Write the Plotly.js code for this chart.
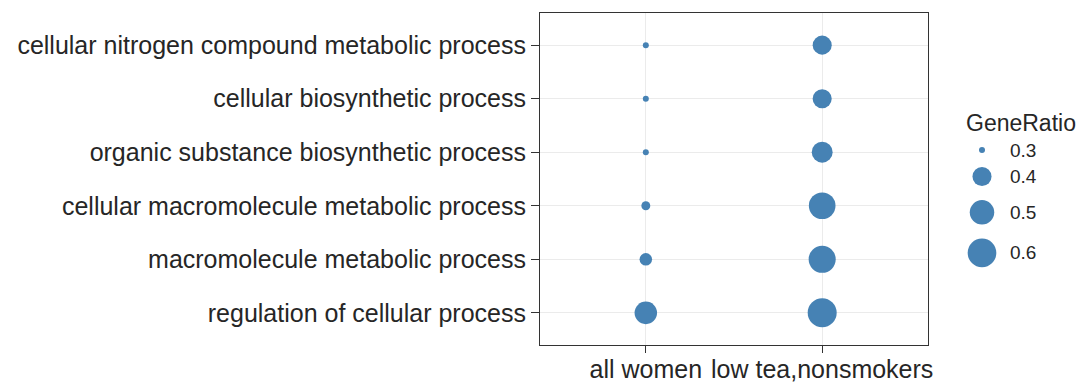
<!DOCTYPE html>
<html>
<head>
<meta charset="utf-8">
<script src="https://cdn.plot.ly/plotly-3.0.1.min.js"></script>
<style>
html, body { margin: 0; padding: 0; background: #ffffff; }
#chart { width: 1078px; height: 383px; }
</style>
</head>
<body>
<div id="chart"></div>
<script>
// ---- data (terms listed top to bottom as in the chart) ----
const terms = [
  "cellular nitrogen compound metabolic process",
  "cellular biosynthetic process",
  "organic substance biosynthetic process",
  "cellular macromolecule metabolic process",
  "macromolecule metabolic process",
  "regulation of cellular process"
];
const groups = ["all women", "low tea,nonsmokers"];
const ratioAllWomen = [0.300, 0.300, 0.300, 0.305, 0.325, 0.46];
const ratioLowTea   = [0.40, 0.40, 0.43, 0.55, 0.56, 0.61];
const legendTitle = "GeneRatio";
const legendBreaks = [0.3, 0.4, 0.5, 0.6];
const legendLabels = ["0.3", "0.4", "0.5", "0.6"];

// ---- size scale (area-style, like ggplot's scale_size) ----
const allRatios = ratioAllWomen.concat(ratioLowTea);
const lo = Math.min(...allRatios), hi = Math.max(...allRatios);
const D_MIN = 6, D_MAX = 29;
function diam(v) {
  const t = Math.max(0, Math.min(1, (v - lo) / (hi - lo)));
  return D_MIN + (D_MAX - D_MIN) * Math.sqrt(t);
}

const FONT = "Liberation Sans, Arial, Helvetica, sans-serif";
const TXT = "#262626";
const DOT = "#4682B4";

// ---- layout geometry ----
const W = 1078, H = 383;
const M = { l: 540, r: 0, t: 13, b: 38 };
const plotW = W - M.l - M.r;
const panelRight = 928;
const split = (panelRight - M.l) / plotW;

// legend key positions (pixel units on the hidden legend axis)
const LEG_X = 982, LEG_LABEL_X = 1008, LEG_TITLE_X = 964, LEG_TITLE_Y = 123;
const LEG_FIRST_Y = 150, KEY_PAD = 14;
const legY = [];
legendBreaks.forEach((b, i) => {
  if (i === 0) legY.push(LEG_FIRST_Y);
  else {
    const prev = legendBreaks[i - 1];
    legY.push(legY[i - 1] + (diam(prev) + KEY_PAD + diam(b) + KEY_PAD) / 2);
  }
});

const mainTrace = {
  type: "scatter",
  mode: "markers",
  x: terms.map(() => groups[0]).concat(terms.map(() => groups[1])),
  y: terms.concat(terms),
  marker: {
    color: DOT,
    size: allRatios.map(diam),
    sizemode: "diameter",
    line: { width: 0 },
    opacity: 1
  },
  hoverinfo: "x+y+text",
  text: allRatios.map(v => "GeneRatio: " + v),
  showlegend: false
};

const legendTrace = {
  type: "scatter",
  mode: "markers",
  xaxis: "x2",
  yaxis: "y2",
  x: legendBreaks.map(() => LEG_X),
  y: legY,
  marker: {
    color: DOT,
    size: legendBreaks.map(diam),
    sizemode: "diameter",
    line: { width: 0 },
    opacity: 1
  },
  hoverinfo: "skip",
  showlegend: false,
  cliponaxis: false
};

const annotations = [{
  xref: "x2", yref: "y2", x: LEG_TITLE_X, y: LEG_TITLE_Y,
  text: legendTitle, showarrow: false, xanchor: "left", yanchor: "middle",
  font: { family: FONT, size: 23, color: TXT }
}].concat(legendLabels.map((lab, i) => ({
  xref: "x2", yref: "y2", x: LEG_LABEL_X, y: legY[i],
  text: lab, showarrow: false, xanchor: "left", yanchor: "middle",
  font: { family: FONT, size: 19, color: TXT }
})));

const axisCommon = {
  type: "category",
  showgrid: true,
  gridcolor: "#EBEBEB",
  gridwidth: 1,
  zeroline: false,
  showline: true,
  mirror: true,
  linecolor: "#333333",
  linewidth: 1,
  ticks: "outside",
  tickcolor: "#333333",
  tickwidth: 1,
  tickfont: { family: FONT, size: 25, color: TXT },
  fixedrange: true
};

const layout = {
  width: W,
  height: H,
  margin: M,
  paper_bgcolor: "#ffffff",
  plot_bgcolor: "#ffffff",
  showlegend: false,
  font: { family: FONT, color: TXT },
  xaxis: Object.assign({}, axisCommon, {
    domain: [0, split],
    categoryorder: "array",
    categoryarray: groups,
    range: [-0.6, groups.length - 0.4],
    ticklen: 7,
    ticklabelstandoff: -5,
    anchor: "y"
  }),
  yaxis: Object.assign({}, axisCommon, {
    categoryorder: "array",
    categoryarray: terms,
    range: [terms.length - 0.4, -0.6],
    ticklen: 8,
    anchor: "x"
  }),
  xaxis2: {
    domain: [split, 1], range: [panelRight, W], visible: false,
    anchor: "y2", fixedrange: true
  },
  yaxis2: {
    domain: [0, 1], range: [H - M.b, M.t], visible: false,
    anchor: "x2", fixedrange: true
  },
  annotations: annotations
};

Plotly.newPlot("chart", [mainTrace, legendTrace], layout, { displayModeBar: false, staticPlot: true });
</script>
</body>
</html>
